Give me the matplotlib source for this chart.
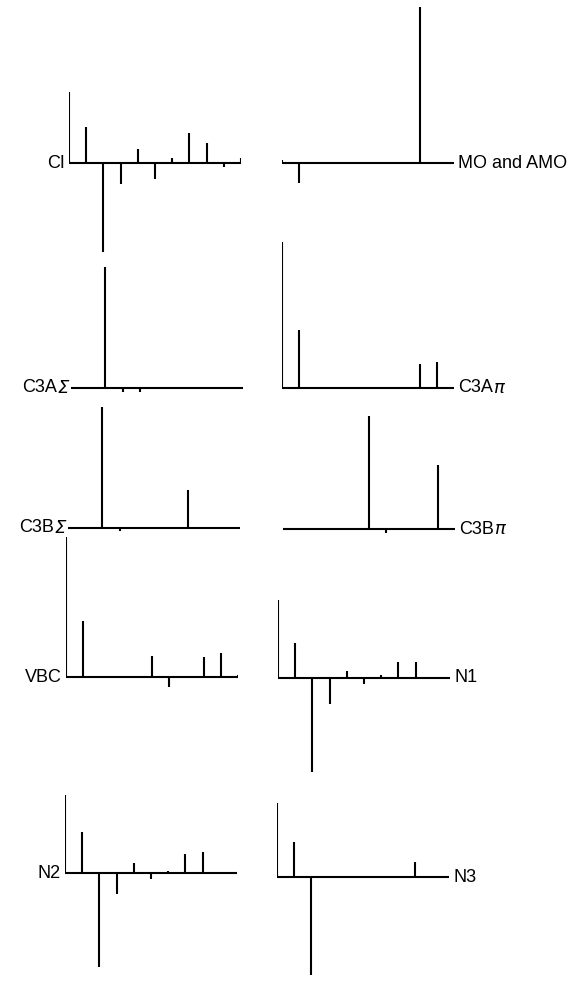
import numpy as np
import matplotlib.pyplot as plt

plt.rcParams['font.family'] = ['Liberation Sans', 'DejaVu Sans']
plt.rcParams['mathtext.fontset'] = 'custom'
plt.rcParams['mathtext.rm'] = 'Liberation Sans'
plt.rcParams['mathtext.it'] = 'Liberation Sans:italic'

# stick heights (arbitrary units) at the 11 positions of each spectrum
positions = np.arange(11)
ci = [71, 36, -89, -21, 14, -16, 5, 30, 20, -4, 5]
mo_amo = [3, -20, 0, 0, 0, 0, 0, 0, 156, 0, 0]
c3a_sigma = [0, 0, 121, -4, -4, 0, 0, 0, 0, 0, 0]
c3a_pi = [146, 58, 0, 0, 0, 0, 0, 0, 24, 26, 0]
c3b_sigma = [0, 0, 121, -3, 0, 0, 0, 38, 0, 0, 0]
c3b_pi = [0, 0, 0, 0, 0, 113, -4, 0, 0, 64, 0]
vbc = [140, 56, 0, 0, 0, 21, -10, 0, 20, 24, 2]
n1 = [78, 35, -94, -26, 7, -6, 3, 16, 16, 0, 0]
n2 = [78, 41, -94, -21, 10, -6, 2, 19, 21, 0, 0]
n3 = [74, 35, -98, 0, 0, 0, 0, 0, 15, 0, 0]

# (plain part, italic symbol) for each panel label
labels = [("CI", ""), ("MO and AMO", ""), ("C3A", "Σ"), ("C3A", "π"),
          ("C3B", "Σ"), ("C3B", "π"), ("VBC", ""), ("N1", ""),
          ("N2", ""), ("N3", "")]
series = [ci, mo_amo, c3a_sigma, c3a_pi, c3b_sigma, c3b_pi, vbc, n1, n2, n3]

# panel placement in pixels: (left x of position 0, baseline y), label side
W, H = 575, 981
panel_pos = [(69, 163), (282, 163), (71, 388), (282, 388), (68, 528),
             (283, 529), (66, 677), (278, 678), (65, 873), (277, 877)]
label_side = ["left", "right"] * 5
span = 172          # px from position 0 to position 10
y_lo, y_hi = -105, 165
fs = 13

fig = plt.figure(figsize=(W / 100, H / 100), dpi=100)

for vals, (lab, sym), (x0, yb), side in zip(series, labels, panel_pos, label_side):
    left = x0 / W
    width = span / W
    bottom = (H - yb + y_lo) / H
    height = (y_hi - y_lo) / H
    ax = fig.add_axes([left, bottom, width, height])
    ax.set_xlim(0, 10)
    ax.set_ylim(y_lo, y_hi)
    ax.axis("off")
    ax.patch.set_alpha(0)

    ax.plot([0, 10], [0, 0], color="black", lw=1.5, solid_capstyle="butt")
    ax.vlines(positions, 0, vals, color="black", lw=1.5)

    if side == "left":
        if sym:
            t = ax.text(-0.15, 0, sym, ha="right", va="center", fontsize=fs,
                        style="italic", family="DejaVu Sans")
            ax.annotate(lab, xy=(0, 0.5), xycoords=t, ha="right", va="center",
                        fontsize=fs)
        else:
            ax.text(-0.25, 0, lab, ha="right", va="center", fontsize=fs)
    else:
        t = ax.text(10.25, 0, lab, ha="left", va="center", fontsize=fs)
        if sym:
            ax.annotate(sym, xy=(1, 0.5), xycoords=t, ha="left", va="center",
                        fontsize=fs, style="italic", family="DejaVu Sans")

fig.savefig("out.png", dpi=100, facecolor="white")
